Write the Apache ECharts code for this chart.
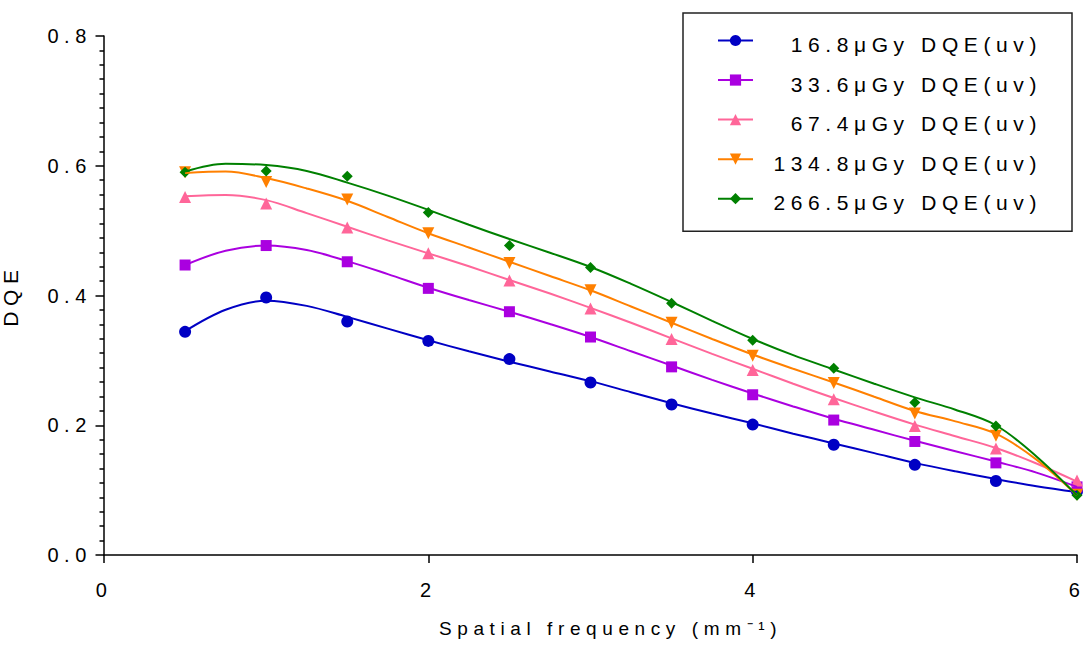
<!DOCTYPE html>
<html>
<head>
<meta charset="utf-8">
<script src="https://cdn.jsdelivr.net/npm/echarts@6.0.0/dist/echarts.min.js"></script>
<style>
  html, body { margin: 0; padding: 0; background: #ffffff; }
  #chart { width: 1085px; height: 648px; }
  /* spaced-out lettering used throughout the plot */
  #chart text { letter-spacing: 5.6px; }
</style>
</head>
<body>
<div id="chart"></div>
<script>
// Spatial frequencies (mm^-1) at which DQE was measured
const freqPoints = [0.5, 1, 1.5, 2, 2.5, 3, 3.5, 4, 4.5, 5, 5.5, 6];

// Measured DQE(u,v) for each exposure level
const dqe16_8 = [0.344, 0.397, 0.360, 0.330, 0.302, 0.266, 0.232, 0.201, 0.170, 0.139, 0.114, 0.098];
const dqe33_6 = [0.447, 0.477, 0.452, 0.411, 0.375, 0.336, 0.290, 0.247, 0.208, 0.175, 0.142, 0.105];
const dqe67_4 = [0.552, 0.542, 0.505, 0.465, 0.423, 0.380, 0.333, 0.285, 0.240, 0.199, 0.164, 0.115];
const dqe134_8 = [0.590, 0.575, 0.548, 0.496, 0.450, 0.408, 0.358, 0.307, 0.265, 0.218, 0.184, 0.093];
const dqe266_5 = [0.590, 0.592, 0.584, 0.528, 0.477, 0.443, 0.388, 0.331, 0.288, 0.235, 0.199, 0.092];

// Fitted curves, sampled every 0.25 mm^-1
const fitFreq = [0.5, 0.75, 1, 1.25, 1.5, 1.75, 2, 2.25, 2.5, 2.75, 3, 3.25, 3.5,
                 3.75, 4, 4.25, 4.5, 4.75, 5, 5.25, 5.5, 5.75, 6];
const fit16_8 = [0.345, 0.378, 0.392, 0.384, 0.367, 0.349, 0.331, 0.314, 0.298, 0.283, 0.268, 0.251, 0.234,
                 0.218, 0.203, 0.187, 0.172, 0.157, 0.142, 0.129, 0.117, 0.106, 0.097];
const fit33_6 = [0.447, 0.469, 0.477, 0.470, 0.453, 0.433, 0.412, 0.393, 0.375, 0.356, 0.336, 0.314, 0.292,
                 0.270, 0.249, 0.229, 0.210, 0.193, 0.176, 0.160, 0.144, 0.127, 0.105];
const fit67_4 = [0.553, 0.555, 0.547, 0.527, 0.506, 0.485, 0.465, 0.445, 0.424, 0.403, 0.381, 0.358, 0.334,
                 0.310, 0.287, 0.264, 0.242, 0.221, 0.201, 0.183, 0.165, 0.141, 0.113];
const fit134_8 = [0.589, 0.591, 0.581, 0.565, 0.546, 0.521, 0.496, 0.474, 0.452, 0.430, 0.408, 0.383, 0.358,
                  0.333, 0.309, 0.287, 0.266, 0.244, 0.222, 0.206, 0.187, 0.147, 0.092];
const fit266_5 = [0.591, 0.603, 0.601, 0.592, 0.574, 0.554, 0.532, 0.509, 0.487, 0.466, 0.444, 0.418, 0.390,
                  0.361, 0.333, 0.308, 0.286, 0.264, 0.243, 0.224, 0.200, 0.152, 0.092];

const seriesNames = [
  '16.8\u03bcGy DQE(uv)',
  '33.6\u03bcGy DQE(uv)',
  '67.4\u03bcGy DQE(uv)',
  '134.8\u03bcGy DQE(uv)',
  '266.5\u03bcGy DQE(uv)'
];
const measuredSets = [dqe16_8, dqe33_6, dqe67_4, dqe134_8, dqe266_5];
const fittedSets = [fit16_8, fit33_6, fit67_4, fit134_8, fit266_5];

const xAxisTitle = 'Spatial frequency (mm\u207b\u00b9)';
const yAxisTitle = 'DQE';

// marker / colour styling per exposure level
const looks = [
  { color: '#0000C4', symbol: 'circle', size: 12 },
  { color: '#AA00E0', symbol: 'rect', size: 11 },
  { color: '#FF6699', symbol: 'triangle', size: 12 },
  { color: '#FF8000', symbol: 'path://M0,0L12,0L6,11Z', size: 12 },
  { color: '#008000', symbol: 'diamond', size: 11 }
];

const FONT = 'Liberation Sans, Arial, sans-serif';
const zip = (xs, ys) => xs.map((x, i) => [x, ys[i]]);

const series = [];
seriesNames.forEach((name, i) => {
  const look = looks[i];
  series.push({
    name: name,
    type: 'line',
    smooth: 0.35,
    showSymbol: false,
    symbol: look.symbol,
    symbolSize: look.size,
    data: zip(fitFreq, fittedSets[i]),
    itemStyle: { color: look.color },
    lineStyle: { color: look.color, width: 2 },
    emphasis: { disabled: true },
    silent: true
  });
  series.push({
    name: name,
    type: 'scatter',
    symbol: look.symbol,
    symbolSize: look.size,
    data: zip(freqPoints, measuredSets[i]),
    itemStyle: { color: look.color, opacity: 1 },
    emphasis: { disabled: true },
    silent: true
  });
});

const chart = echarts.init(document.getElementById('chart'), null, { renderer: 'svg' });
chart.setOption({
  animation: false,
  backgroundColor: '#ffffff',
  textStyle: { fontFamily: FONT, color: '#000' },
  grid: { left: 104, top: 36, width: 973, height: 519, outerBoundsMode: 'none' },
  legend: {
    data: seriesNames,
    orient: 'vertical',
    left: 683,
    top: 13,
    padding: [13, 30, 18, 34],
    itemWidth: 35,
    itemHeight: 14,
    itemGap: 10.55,
    selectedMode: false,
    borderColor: '#222',
    borderWidth: 1.5,
    backgroundColor: '#fff',
    formatter: name => '{t|' + name + '}',
    textStyle: {
      fontFamily: FONT,
      color: '#000',
      rich: {
        t: { width: 284, align: 'right', fontSize: 21, lineHeight: 20, padding: [8, 0, 0, 0], fontFamily: FONT, color: '#000' }
      }
    }
  },
  xAxis: {
    type: 'value',
    min: 0,
    max: 6,
    interval: 2,
    name: xAxisTitle,
    nameLocation: 'middle',
    nameGap: 64,
    nameTextStyle: { fontSize: 19, color: '#000', fontFamily: FONT, padding: [0, 0, 0, 40] },
    axisLine: { show: true, onZero: false, lineStyle: { color: '#000', width: 1.5 } },
    axisTick: { show: true, length: 8, lineStyle: { color: '#000', width: 1.5 } },
    splitLine: { show: false },
    axisLabel: { fontSize: 20, color: '#000', margin: 25, fontFamily: FONT, showMinLabel: true, showMaxLabel: true }
  },
  yAxis: {
    type: 'value',
    min: 0,
    max: 0.8,
    interval: 0.2,
    name: yAxisTitle,
    nameLocation: 'middle',
    nameRotate: 90,
    nameGap: 83,
    nameTextStyle: { fontSize: 21, color: '#000', fontFamily: FONT },
    axisLine: { show: true, onZero: false, lineStyle: { color: '#000', width: 1.5 } },
    axisTick: { show: true, length: 8.5, lineStyle: { color: '#000', width: 1.5 } },
    minorTick: { show: true, splitNumber: 9, length: 4.5, lineStyle: { color: '#000', width: 1.5 } },
    splitLine: { show: false },
    minorSplitLine: { show: false },
    axisLabel: {
      formatter: v => v.toFixed(1),
      fontSize: 20, color: '#000', margin: 12, padding: [15, 0, 0, 0], fontFamily: FONT,
      showMinLabel: true, showMaxLabel: true
    }
  },
  series: series
});
</script>
</body>
</html>
